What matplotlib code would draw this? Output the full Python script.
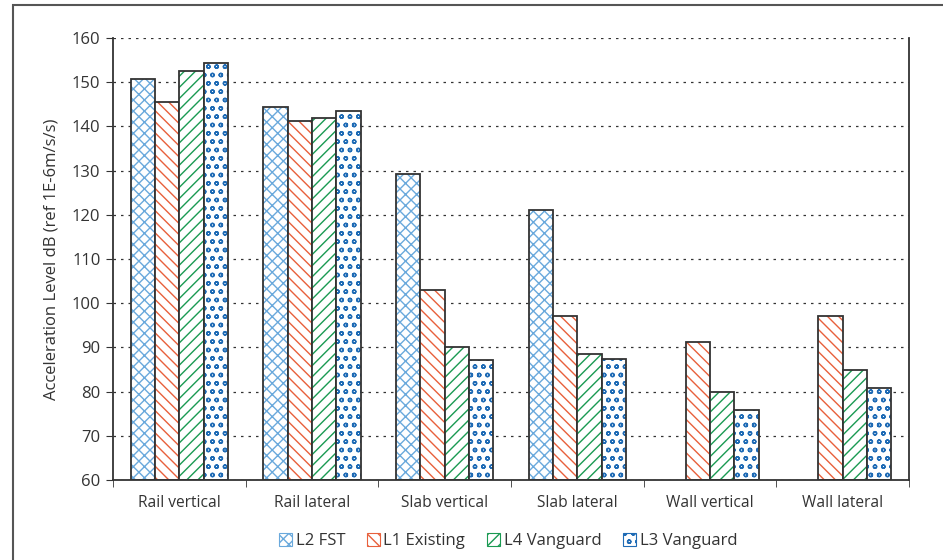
import matplotlib
matplotlib.use("Agg")
import matplotlib.pyplot as plt
import numpy as np
from matplotlib.patches import Rectangle

categories = ["Rail vertical", "Rail lateral", "Slab vertical", "Slab lateral", "Wall vertical", "Wall lateral"]
series_names = ["L2 FST", "L1 Existing", "L4 Vanguard", "L3 Vanguard"]
l2_fst = [150.7, 144.4, 129.3, 121.1, np.nan, np.nan]
l1_existing = [145.6, 141.2, 103.0, 97.1, 91.3, 97.0]
l4_vanguard = [152.6, 142.0, 90.1, 88.6, 79.8, 85.0]
l3_vanguard = [154.3, 143.4, 87.2, 87.3, 75.8, 80.8]
yticks = [60, 70, 80, 90, 100, 110, 120, 130, 140, 150, 160]

series = [l2_fst, l1_existing, l4_vanguard, l3_vanguard]
colors = ["#6aa9dc", "#e8603c", "#1a9a52", "#1f6bb5"]
hatches = ["xxx", "\\\\\\", "///", "oo"]
edge = "#333333"

plt.rcParams['font.family'] = ['Open Sans', 'DejaVu Sans']
plt.rcParams['hatch.linewidth'] = 1.0

fig = plt.figure(figsize=(9.43, 5.6), dpi=100)
ax = fig.add_axes([113/943, 1-480/560, (909-113)/943, (480-38)/560])

# outer frame
fig.patches.append(Rectangle((13/943, -0.1), 1.2, 1-5/560+0.1, transform=fig.transFigure,
                             fill=False, edgecolor="#555555", linewidth=1.5))

n = len(categories)
x = np.arange(n)
bw = 0.183
offsets = (np.arange(4) - 1.5) * bw
handles = []
for i, vals in enumerate(series):
    v = np.array(vals, dtype=float)
    ax.bar(x + offsets[i], v - 60, bw, bottom=60, facecolor="white",
           edgecolor=colors[i], hatch=hatches[i], linewidth=0)
    ax.bar(x + offsets[i], v - 60, bw, bottom=60, fill=False,
           edgecolor=edge, linewidth=1.3)
    handles.append(Rectangle((0, 0), 1, 1, facecolor="white", edgecolor=colors[i],
                             hatch=hatches[i], linewidth=0.8))

ax.set_xlim(-0.5, n - 0.5)
ax.set_ylim(60, 160)
ax.set_yticks(yticks)
ax.set_xticks(x)
ax.set_xticklabels(categories, fontsize=11.2, color="#333333")
ax.set_xticks(np.arange(n + 1) - 0.5, minor=True)
ax.tick_params(axis="x", which="major", length=0, pad=11)
ax.tick_params(axis="x", which="minor", length=5, direction="out", color=edge)
ax.tick_params(axis="y", length=5, direction="out", labelsize=12, colors="#333333", pad=4)
ax.tick_params(axis="y", color=edge)
ax.yaxis.grid(True, linestyle=(0, (2, 4)), color="#333333", linewidth=0.9)
ax.set_axisbelow(True)
for s in ["left", "right", "bottom"]:
    ax.spines[s].set_color(edge)
    ax.spines[s].set_linewidth(1.3)
ax.spines["top"].set_visible(False)
ax.set_ylabel("Acceleration Level dB (ref 1E-6m/s/s)", fontsize=12, color="#333333", labelpad=9)

fig.legend(handles, series_names, loc="center", bbox_to_anchor=(508/943, 1-541/560), ncol=4,
           frameon=False, fontsize=12, handlelength=0.8, handleheight=0.8,
           handletextpad=0.2, columnspacing=1.3, labelcolor="#333333")

fig.savefig("out.png", dpi=100)
